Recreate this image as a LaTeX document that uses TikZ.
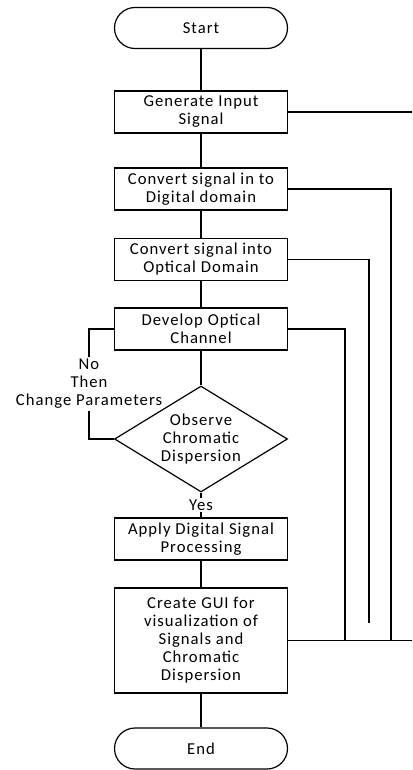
\documentclass[tikz,border=0pt]{standalone}
\usepackage{fontspec}
\setmainfont{Carlito}[LetterSpace=6]
\usetikzlibrary{shapes.geometric}
\tikzset{every picture/.style={line width=0.9pt}}

\begin{document}
\begin{tikzpicture}[x=0.75pt,y=0.75pt,yscale=-1,xscale=1,
  font=\fontsize{12.5}{13.5}\selectfont,
  procbox/.style={draw, rectangle, minimum width=129.75pt, minimum height=31.5pt, inner sep=1pt, align=center},
  termbox/.style={draw, rectangle, rounded corners=15.4pt, minimum width=129.75pt, minimum height=30.75pt, inner sep=1pt},
  decbox/.style={draw, diamond, shape aspect=1.63, minimum width=129.75pt, minimum height=79.5pt, inner sep=0pt, align=center},
  lbl/.style={inner sep=1pt, align=center}]
\path [use as bounding box] (0,0) rectangle (412,770);

%Shape: Terminal [id:start]
\node [termbox] (start) at (201,28) {Start};
%Shape: Rectangle [id:gen]
\node [procbox] (gen) at (201,112) {Generate Input\\Signal};
%Shape: Rectangle [id:dig]
\node [procbox] (dig) at (201,189) {Convert signal in to\\Digital domain};
%Shape: Rectangle [id:opt]
\node [procbox] (opt) at (201,259.5) {Convert signal into\\Optical Domain};
%Shape: Rectangle [id:dev]
\node [procbox] (dev) at (201,329) {Develop Optical\\Channel};
%Shape: Diamond [id:obs]
\node [decbox] (obs) at (201,439) {Observe\\Chromatic\\Dispersion};
%Shape: Rectangle [id:dsp]
\node [procbox] (dsp) at (201,539) {Apply Digital Signal\\Processing};
%Shape: Rectangle [id:gui]
\node [procbox, minimum height=78.75pt] (gui) at (201,640.5) {Create GUI for\\visualization of\\Signals and\\Chromatic\\Dispersion};
%Shape: Terminal [id:end]
\node [termbox] (end) at (201,748.5) {End};

% Text Node
\node [lbl] (yes) at (201,505) {Yes};
% Text Node
\node [lbl] (noloop) at (89,384) {No\\Then\\Change Parameters};

% free ends on the right
\coordinate (genR) at (412,112);
\coordinate (digR) at (391,641);
\coordinate (optR) at (369,623);
\coordinate (devR) at (345,641);
\coordinate (guiR) at (412,640.5);

%Straight Lines [main flow]
\draw (start) -- (gen);
\draw (gen) -- (dig);
\draw (dig) -- (opt);
\draw (opt) -- (dev);
\draw (dev) -- (obs);
\draw (obs) -- (yes);
\draw (yes) -- (dsp);
\draw (dsp) -- (gui);
\draw (gui) -- (end);

%Straight Lines [feedback]
\draw (obs.west) -| (noloop.south);
\draw (noloop.north) |- (dev.west);

%Straight Lines [right side]
\draw (gen.east) -- (genR);
\draw (dig.east) -| (digR);
\draw (opt.east) -| (optR);
\draw (dev.east) -| (devR);
\draw (gui.east) -- (guiR);

\end{tikzpicture}
\end{document}
